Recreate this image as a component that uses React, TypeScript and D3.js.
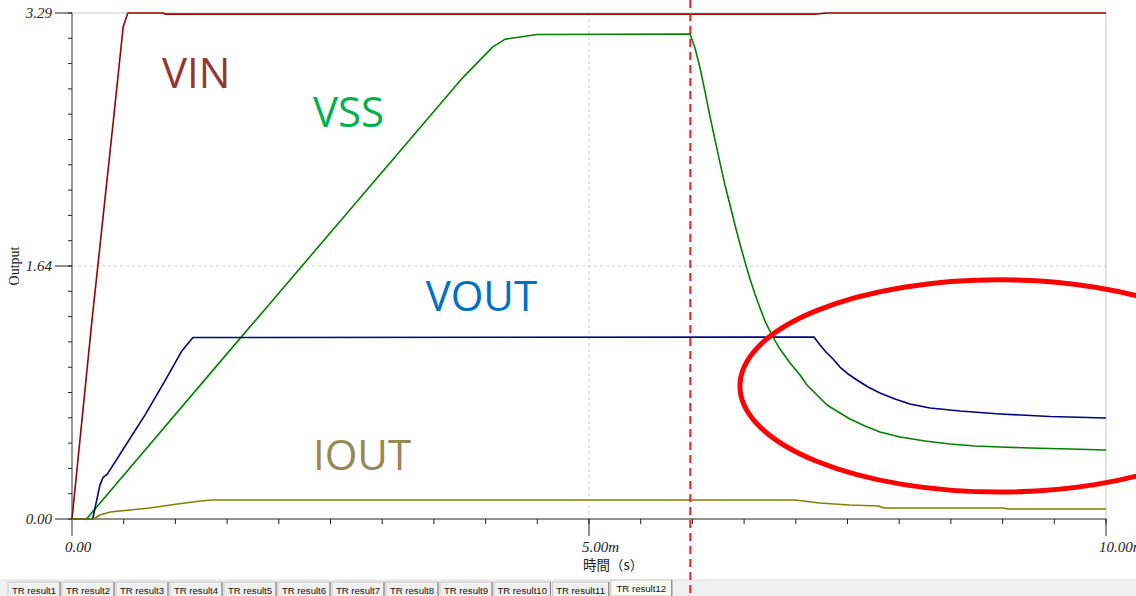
import React from "react";
import * as d3 from "d3";

// time in ms, value in V / A
const vinData: [number, number][] = [
  [0, 0], [0.19, 1.27], [0.4, 2.59], [0.495, 3.2], [0.54, 3.29],
  [0.88, 3.29], [0.9, 3.283], [7.2, 3.283], [7.3, 3.29], [10, 3.29],
];

const vssData: [number, number][] = [
  [0, 0], [0.14, 0], [1.43, 1.02], [3.78, 2.87], [4.07, 3.07], [4.19, 3.12],
  [4.5, 3.15], [5.977, 3.153], [6.025, 3.062], [6.074, 2.932], [6.123, 2.776],
  [6.171, 2.614], [6.219, 2.465], [6.267, 2.315], [6.315, 2.172], [6.364, 2.042],
  [6.412, 1.912], [6.46, 1.788], [6.509, 1.671], [6.557, 1.561], [6.605, 1.463],
  [6.654, 1.372], [6.702, 1.287], [6.779, 1.183], [6.847, 1.105], [6.944, 1.014],
  [7.041, 0.936], [7.108, 0.871], [7.186, 0.819], [7.302, 0.741], [7.427, 0.689],
  [7.524, 0.65], [7.669, 0.605], [7.814, 0.566], [8.008, 0.533], [8.25, 0.507],
  [8.491, 0.488], [8.733, 0.475], [8.975, 0.468], [9.265, 0.462], [9.652, 0.455],
  [10, 0.449],
];

const voutData: [number, number][] = [
  [0, 0], [0.2, 0], [0.27, 0.22], [0.3, 0.27], [0.34, 0.29], [0.51, 0.47],
  [0.71, 0.68], [0.9, 0.9], [1.06, 1.09], [1.17, 1.18], [7.176, 1.183],
  [7.234, 1.131], [7.292, 1.086], [7.36, 1.04], [7.427, 0.988], [7.505, 0.943],
  [7.592, 0.904], [7.698, 0.858], [7.814, 0.819], [7.959, 0.78], [8.104, 0.748],
  [8.298, 0.722], [8.588, 0.702], [8.975, 0.683], [9.458, 0.666], [10, 0.657],
];

const ioutData: [number, number][] = [
  [0, 0], [0.21, 0], [0.27, 0.026], [0.37, 0.045], [0.75, 0.072],
  [1.02, 0.098], [1.24, 0.117], [1.36, 0.124], [6.99, 0.124], [7.23, 0.104],
  [7.52, 0.091], [7.8, 0.085], [7.85, 0.072], [9.0, 0.072], [9.05, 0.065], [10, 0.065],
];

const seriesNames = ["VIN", "VSS", "VOUT", "IOUT"];
const lineColors = ["#990000", "#008000", "#000080", "#808000"];
const labelColors = ["#953735", "#00b050", "#0070c0", "#948a54"];
// label anchor in data coords [t, v]
const labelPos: [number, number][] = [[0.87, 2.8], [2.33, 2.55], [3.42, 1.352], [2.33, 0.319]];

const yTickValues = [0, 1.645, 3.29];
const yTickLabels = ["0.00", "1.64", "3.29"];
const xTickValues = [0, 5, 10];
const xTickLabels = ["0.00", "5.00m", "10.00m"];

const markerTime = 5.98;
// highlight ellipse: center [t, v], radii [ms, V]
const ellipseCenter: [number, number] = [8.97, 0.865];
const ellipseRadii: [number, number] = [2.51, 0.69];

const tabLabels = [
  "TR result1", "TR result2", "TR result3", "TR result4", "TR result5", "TR result6",
  "TR result7", "TR result8", "TR result9", "TR result10", "TR result11", "TR result12",
];

const W = 1136;
const H = 596;

export default function App() {
  const x = d3.scaleLinear().domain([0, 10]).range([72, 1106]);
  const y = d3.scaleLinear().domain([0, 3.29]).range([519, 13]);
  const line = d3.line<[number, number]>().x(d => x(d[0])).y(d => y(d[1]));
  const all = [vinData, vssData, voutData, ioutData];

  const xMinor = d3.range(0, 10.001, 0.5);
  const yMinor = d3.range(0, 21).map(i => (i * 3.29) / 20);

  // tab layout
  let cur = 8;
  const tabs = tabLabels.map((t, i) => {
    const sel = i === tabLabels.length - 1;
    const w = sel ? 61 : t.length * 4.4 + 8;
    const r = { t, x0: cur, w, sel };
    cur += w + 2;
    return r;
  });

  const serif = "'Liberation Serif', 'DejaVu Serif', serif";

  return (
    <svg width={W} height={H} style={{ position: "absolute", left: 0, top: 0, background: "#fff" }}>
      {/* grid */}
      <line x1={x(0)} x2={x(10)} y1={y(3.29)} y2={y(3.29)} stroke="#dcdcdc" strokeWidth={1.5} />
      <line x1={x(0)} x2={x(10)} y1={y(1.645)} y2={y(1.645)} stroke="#cfcfcf" strokeDasharray="3,3" />
      <line x1={x(5)} x2={x(5)} y1={y(3.29)} y2={y(0)} stroke="#cfcfcf" strokeDasharray="3,3" />
      <line x1={x(10)} x2={x(10)} y1={y(3.29)} y2={y(0)} stroke="#c8c8c8" />

      {/* x axis */}
      <line x1={x(0)} x2={x(10)} y1={y(0)} y2={y(0)} stroke="#222" />
      {xMinor.map(t => (
        <line key={t} x1={x(t)} x2={x(t)} y1={y(0)} y2={y(0) + 5} stroke="#222" />
      ))}
      {xTickValues.map((t, i) => (
        <g key={t}>
          <line x1={x(t)} x2={x(t)} y1={y(0)} y2={y(0) + 17} stroke="#222" />
          <text x={x(t) - 7} y={552} fontFamily={serif} fontStyle="italic" fontSize={15} fill="#222">
            {xTickLabels[i]}
          </text>
        </g>
      ))}
      <text x={583} y={570} fontFamily="'Noto Sans CJK JP', sans-serif" fontSize={13.5} fill="#222">
        時間（s）
      </text>

      {/* y axis */}
      <line x1={x(0)} x2={x(0)} y1={y(3.29)} y2={536} stroke="#999" strokeWidth={2} />
      {yMinor.map(v => (
        <line key={v} x1={x(0) - 4} x2={x(0)} y1={y(v)} y2={y(v)} stroke="#222" />
      ))}
      {yTickValues.map((v, i) => (
        <g key={v}>
          <line x1={x(0) - 17} x2={x(0)} y1={y(v)} y2={y(v)} stroke="#222" />
          <text x={52} y={y(v) + 5} textAnchor="end" fontFamily={serif} fontStyle="italic" fontSize={15} fill="#222">
            {yTickLabels[i]}
          </text>
        </g>
      ))}
      <text transform="translate(19,266) rotate(-90)" textAnchor="middle" fontFamily={serif} fontSize={14} fill="#222">
        Output
      </text>

      {/* series */}
      {all.map((d, i) => (
        <path key={seriesNames[i]} d={line(d) ?? ""} fill="none" stroke={lineColors[i]} strokeWidth={1.6} strokeLinejoin="round" />
      ))}
      {seriesNames.map((n, i) => (
        <text key={n} x={x(labelPos[i][0])} y={y(labelPos[i][1])} fontFamily="'Open Sans', sans-serif" fontSize={42} fill={labelColors[i]}>
          {n}
        </text>
      ))}

      {/* annotations */}
      <ellipse
        cx={x(ellipseCenter[0])}
        cy={y(ellipseCenter[1])}
        rx={x(ellipseRadii[0]) - x(0)}
        ry={y(0) - y(ellipseRadii[1])}
        fill="none"
        stroke="#ff0000"
        strokeWidth={5}
      />

      {/* tabs */}
      <rect x={0} y={580} width={W} height={16} fill="#f0f0f0" />
      <line x1={0} x2={W} y1={580} y2={580} stroke="#e0e0e0" />
      {tabs.map(tb => (
        <g key={tb.t}>
          <rect x={tb.x0} y={tb.sel ? 580 : 582} width={tb.w} height={16} fill={tb.sel ? "#fbfaf2" : "#f0f0f0"} stroke="#c8c8c8" />
          <line x1={tb.x0 + tb.w} x2={tb.x0 + tb.w} y1={tb.sel ? 580 : 582} y2={596} stroke="#777" />
          <text x={tb.x0 + tb.w / 2} y={tb.sel ? 592 : 594} textAnchor="middle" fontFamily="'Liberation Sans', Arial, sans-serif" fontSize={9.6} fill="#111">
            {tb.t}
          </text>
        </g>
      ))}

      <line x1={x(markerTime)} x2={x(markerTime)} y1={0} y2={H} stroke="#ff1a1a" strokeWidth={2} strokeDasharray="8,5" />
    </svg>
  );
}
